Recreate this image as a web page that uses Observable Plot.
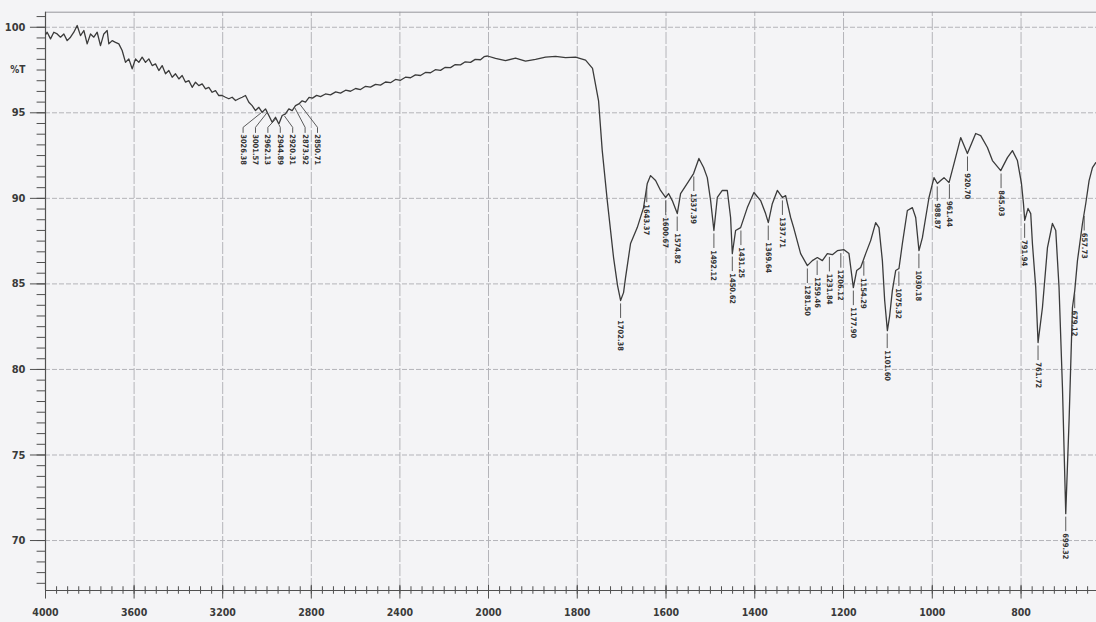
<!DOCTYPE html>
<html>
<head>
<meta charset="utf-8">
<script src="https://cdn.jsdelivr.net/npm/d3@7"></script>
<script src="https://cdn.jsdelivr.net/npm/@observablehq/plot@0.6"></script>
<style>
  html, body { margin: 0; padding: 0; background: #f4f4f6; }
  #chart svg { display: block; }
</style>
</head>
<body>
<div id="chart"></div>
<script>
// IR spectrum: wavenumber (cm-1) and transmittance (%T)
const wavenumber = [
  3998.0, 3992.5, 3977.4, 3962.4, 3947.3, 3932.3, 3917.2, 3902.2, 3887.1, 3872.1,
  3857.0, 3842.0, 3826.9, 3811.9, 3796.8, 3781.8, 3766.7, 3751.7, 3736.7, 3721.6,
  3714.1, 3699.0, 3684.0, 3668.9, 3653.9, 3638.8, 3623.8, 3608.7, 3593.7, 3578.6,
  3563.6, 3548.5, 3533.5, 3518.4, 3503.4, 3488.3, 3473.3, 3458.2, 3443.2, 3428.1,
  3413.1, 3398.0, 3383.0, 3367.9, 3352.9, 3337.8, 3322.8, 3307.8, 3292.7, 3277.6,
  3262.6, 3247.6, 3232.5, 3217.5, 3202.4, 3187.4, 3172.3, 3157.3, 3142.2, 3127.2,
  3112.1, 3097.1, 3082.0, 3067.0, 3051.9, 3036.9, 3021.8, 3006.8, 2991.7, 2976.7,
  2961.6, 2946.6, 2931.5, 2916.5, 2901.4, 2886.4, 2871.3, 2856.3, 2841.2, 2826.2,
  2810.0, 2794.6, 2776.0, 2758.5, 2736.0, 2713.3, 2690.0, 2668.2, 2645.0, 2623.0,
  2600.0, 2577.9, 2555.0, 2532.8, 2510.0, 2487.6, 2465.0, 2442.4, 2420.0, 2397.3,
  2375.0, 2352.1, 2330.0, 2307.0, 2285.0, 2261.8, 2240.0, 2216.7, 2195.0, 2171.5,
  2150.0, 2126.4, 2105.0, 2081.2, 2060.0, 2036.1, 2020.0, 2004.5, 1984.2, 1961.7,
  1939.1, 1916.6, 1894.0, 1871.5, 1848.9, 1826.4, 1803.9, 1781.3, 1765.6, 1752.0,
  1743.7, 1732.4, 1718.2, 1709.2, 1702.4, 1695.7, 1691.2, 1679.9, 1664.8, 1650.6,
  1642.2, 1634.8, 1623.5, 1612.3, 1601.0, 1594.2, 1585.9, 1574.6, 1567.2, 1552.1,
  1537.9, 1525.9, 1515.3, 1507.0, 1499.5, 1492.1, 1484.4, 1473.2, 1461.9, 1454.5,
  1450.6, 1443.2, 1431.9, 1416.8, 1401.9, 1386.8, 1375.6, 1369.5, 1360.5, 1349.2,
  1337.9, 1330.5, 1319.2, 1312.4, 1296.7, 1281.5, 1270.3, 1259.0, 1247.7, 1236.5,
  1225.2, 1213.9, 1199.0, 1187.8, 1177.9, 1170.4, 1161.4, 1150.1, 1138.9, 1127.6,
  1120.1, 1112.5, 1107.3, 1101.2, 1096.0, 1090.0, 1082.5, 1075.1, 1067.4, 1056.2,
  1044.9, 1037.4, 1030.0, 1022.3, 1014.9, 1007.4, 996.2, 988.5, 981.1, 973.6,
  962.3, 951.1, 936.0, 920.9, 902.2, 890.9, 875.8, 864.5, 845.8, 830.7,
  819.4, 808.2, 799.1, 794.6, 791.7, 784.3, 778.2, 774.4, 766.9, 761.7,
  751.8, 740.5, 729.3, 721.8, 714.4, 706.7, 699.3, 691.8, 684.2, 679.0,
  672.9, 661.6, 654.2, 646.7, 639.1, 631.6
];
const transmittance = [
  99.60, 99.71, 99.32, 99.71, 99.61, 99.42, 99.61, 99.22, 99.42, 99.71,
  100.10, 99.51, 99.81, 99.03, 99.61, 99.42, 99.71, 98.93, 99.61, 99.81,
  99.03, 99.22, 99.12, 99.03, 98.64, 97.95, 98.15, 97.57, 98.15, 97.95,
  98.25, 97.95, 98.15, 97.76, 97.86, 97.47, 97.76, 97.28, 97.47, 97.08,
  97.28, 96.98, 97.18, 96.79, 96.88, 96.49, 96.79, 96.59, 96.69, 96.40,
  96.49, 96.20, 96.30, 96.01, 96.01, 95.91, 95.82, 95.91, 95.72, 95.82,
  95.91, 96.01, 95.62, 95.42, 95.13, 95.32, 95.03, 95.23, 94.84, 94.45,
  94.74, 94.35, 94.84, 94.94, 95.23, 95.13, 95.42, 95.52, 95.70, 95.62,
  95.90, 95.86, 96.02, 95.95, 96.10, 96.05, 96.22, 96.15, 96.32, 96.26,
  96.42, 96.36, 96.55, 96.50, 96.66, 96.62, 96.80, 96.76, 96.95, 96.90,
  97.08, 97.05, 97.22, 97.18, 97.36, 97.34, 97.52, 97.48, 97.66, 97.64,
  97.82, 97.80, 97.98, 97.95, 98.12, 98.10, 98.28, 98.32, 98.18, 98.05,
  98.20, 98.02, 98.12, 98.25, 98.30, 98.22, 98.26, 98.08, 97.60, 95.70,
  92.79, 89.87, 86.54, 84.90, 84.03, 84.49, 85.37, 87.36, 88.29, 89.46,
  90.87, 91.33, 91.04, 90.46, 90.05, 90.28, 89.87, 89.11, 90.28, 90.87,
  91.45, 92.33, 91.80, 91.21, 89.87, 88.12, 90.05, 90.46, 90.46, 88.88,
  86.77, 88.12, 88.29, 89.46, 90.34, 89.87, 89.11, 88.58, 89.69, 90.46,
  90.05, 90.16, 88.88, 88.29, 86.77, 86.07, 86.36, 86.54, 86.36, 86.77,
  86.71, 86.94, 87.00, 86.77, 84.78, 85.78, 85.96, 86.77, 87.53, 88.58,
  88.29, 86.36, 84.03, 82.27, 83.15, 84.61, 85.78, 85.90, 87.36, 89.29,
  89.46, 88.88, 86.94, 87.70, 88.88, 90.05, 91.21, 90.87, 91.04, 91.21,
  90.92, 92.03, 93.55, 92.62, 93.79, 93.67, 92.97, 92.21, 91.62, 92.38,
  92.79, 92.21, 90.87, 89.70, 88.71, 89.41, 89.11, 87.36, 84.78, 81.57,
  83.62, 87.12, 88.53, 88.12, 84.78, 78.94, 71.57, 77.01, 83.62, 84.61,
  86.36, 88.53, 89.70, 91.04, 91.80, 92.09
];

// Labelled absorption bands (fingerprint and carbonyl region)
const bandWavenumber = [
  1702.38, 1643.37, 1600.67, 1574.82, 1537.39, 1492.12, 1450.62, 1431.25,
  1369.64, 1337.71, 1281.50, 1259.46, 1231.84, 1206.12, 1177.90, 1154.29,
  1101.60, 1075.32, 1030.18, 988.87, 961.44, 920.70, 845.03, 791.94,
  761.72, 699.32, 679.12, 657.73
];
const bandTransmittance = [
  84.03, 90.80, 90.05, 89.11, 91.45, 88.12, 86.77, 88.29,
  88.58, 90.05, 86.07, 86.54, 86.75, 86.97, 84.78, 86.50,
  82.27, 85.90, 86.94, 90.87, 91.00, 92.62, 91.62, 88.71,
  81.57, 71.57, 84.60, 89.14
];

// C-H stretching bands, labelled with fanned-out leaders
const chWavenumber = [3026.38, 3001.57, 2962.13, 2944.89, 2920.31, 2873.92, 2850.71];
const chTransmittance = [95.12, 95.10, 94.74, 94.40, 94.92, 95.40, 95.60];

// Axis ticks
const xTicks = [4000, 3600, 3200, 2800, 2400, 2000, 1800, 1600, 1400, 1200, 1000, 800];
const xTickLabels = ["4000", "3600", "3200", "2800", "2400", "2000", "1800", "1600", "1400", "1200", "1000", "800"];
const yTicks = [100, 95, 90, 85, 80, 75, 70];
const yTickLabels = ["100", "95", "90", "85", "80", "75", "70"];
const yTitle = "%T";

const yLow = 67.08, yHigh = 100.88, xEnd = 630;

const spectrum = wavenumber.map((w, i) => ({w, t: transmittance[i]}));
const bands = bandWavenumber.map((w, i) => ({w, t: bandTransmittance[i]}));

// spread the C-H labels evenly around the centre of the group
const chMean = d3.mean(chWavenumber);
const chStep = 56;
const chBands = chWavenumber.map((w, i) => ({
  w, t: chTransmittance[i],
  lw: chMean + ((chWavenumber.length - 1) / 2 - i) * chStep
}));
const chLeaders = chBands.flatMap((d, i) => [
  {i, w: d.w, t: d.t - 0.12},
  {i, w: d.lw, t: 94.15},
  {i, w: d.lw, t: 93.85}
]);

// minor ticks: eight divisions between labelled values
const yMinor = d3.range(54).map(i => 67.5 + i * 0.625);
const xMinor = [
  ...d3.range(4000, 2000, -50),
  ...d3.range(2000, xEnd, -25)
];

const gridColor = "#b4b4b9";
const axisColor = "#505050";
const labelFont = "'Liberation Sans Narrow', 'DejaVu Sans Condensed', 'Liberation Sans', Arial, sans-serif";

const chart = Plot.plot({
  width: 1096,
  height: 622,
  marginLeft: 0, marginRight: 0, marginTop: 0, marginBottom: 0,
  x: {type: "linear", domain: [4000, 2000, xEnd], range: [45, 488, 1096], axis: null},
  y: {type: "linear", domain: [yLow, yHigh], range: [590, 11.7], axis: null},
  style: {background: "#f4f4f6", fontFamily: labelFont, overflow: "visible"},
  marks: [
    // grid
    Plot.ruleX(xTicks.slice(1), {y1: yLow, y2: yHigh, stroke: gridColor, strokeWidth: 1, strokeDasharray: "12,2"}),
    Plot.ruleY(yTicks, {x1: 4000, x2: xEnd, stroke: gridColor, strokeWidth: 1, strokeDasharray: "5,2"}),
    // frame
    Plot.ruleY([yHigh], {x1: 4000, x2: xEnd, stroke: "#96969b", strokeWidth: 1}),
    Plot.ruleX([4000], {y1: yLow, y2: yHigh, stroke: axisColor, strokeWidth: 1.2}),
    Plot.ruleY([yLow], {x1: 4000, x2: xEnd, stroke: axisColor, strokeWidth: 1.2}),
    // y ticks
    Plot.ruleY(yMinor, {x1: 4000, x2: 4038, stroke: axisColor, strokeWidth: 1}),
    Plot.ruleY(yTicks, {x1: 4000, x2: 4068, stroke: axisColor, strokeWidth: 1}),
    Plot.text(yTicks, {x: 4000, y: d => d, text: (d, i) => yTickLabels[i], dx: -20, textAnchor: "end",
      fontSize: 11, fontWeight: "bold", fill: "#3a3a3a"}),
    Plot.text([97.5], {x: 4000, y: d => d, text: () => yTitle, dx: -20, textAnchor: "end",
      fontSize: 10, fontWeight: "bold", fill: "#3a3a3a"}),
    // x ticks
    Plot.ruleX(xMinor, {y1: yLow - 0.22, y2: yLow + 0.22, stroke: axisColor, strokeWidth: 1}),
    Plot.ruleX(xTicks, {y1: yLow - 0.5, y2: yLow + 0.3, stroke: axisColor, strokeWidth: 1}),
    Plot.text(xTicks, {x: d => d, y: yLow, text: (d, i) => xTickLabels[i], dy: 22,
      fontSize: 10.5, fontWeight: "bold", fill: "#3a3a3a"}),
    // spectrum
    Plot.line(spectrum, {x: "w", y: "t", stroke: "#3b3b3b", strokeWidth: 1.3, strokeLinejoin: "round"}),
    // band leaders and labels
    Plot.ruleX(bands, {x: "w", y1: d => d.t - 0.2, y2: d => d.t - 1.05, stroke: "#4a4a4a", strokeWidth: 0.9}),
    Plot.text(bands, {x: "w", y: d => d.t - 1.15, text: d => d.w.toFixed(2), rotate: 90,
      textAnchor: "start", lineAnchor: "middle", fontSize: 7.5, fontWeight: "bold", fill: "#333"}),
    Plot.line(chLeaders, {x: "w", y: "t", z: "i", stroke: "#4a4a4a", strokeWidth: 0.9}),
    Plot.text(chBands, {x: "lw", y: 93.75, text: d => d.w.toFixed(2), rotate: 90,
      textAnchor: "start", lineAnchor: "middle", fontSize: 7.5, fontWeight: "bold", fill: "#333"})
  ]
});

document.getElementById("chart").appendChild(chart);
</script>
</body>
</html>
